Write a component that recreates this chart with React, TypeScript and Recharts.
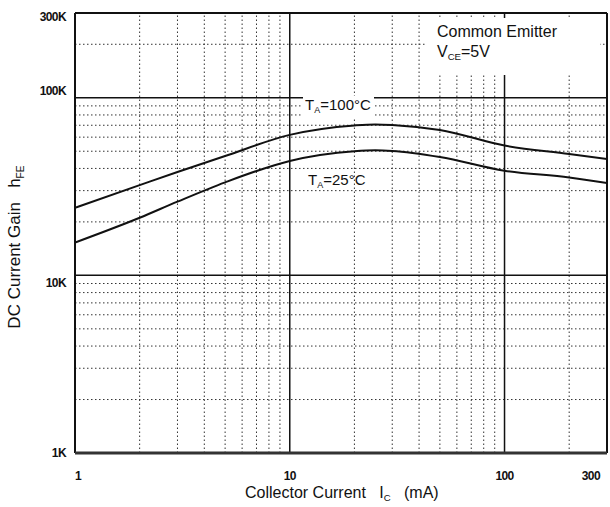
import { LineChart, Line, XAxis, YAxis, ReferenceLine } from "recharts";

// collector current (mA) and DC current gain hFE
const currentMa = [1, 2, 3, 5, 10, 20, 25, 30, 50, 100, 200, 300];
const gain100C = [24000, 32200, 38200, 47000, 61800, 69800, 70800, 70300, 65900, 53800, 48300, 45200];
const gain25C = [15300, 21100, 26000, 33400, 44100, 50000, 50600, 50200, 46400, 38800, 35600, 33100];

const xTicks = [1, 10, 100, 300];
const xTickLabels = ["1", "10", "100", "300"];
const yTicks = [1000, 10000, 100000, 300000];
const yTickLabels = ["1K", "10K", "100K", "300K"];

const xMajor = [10, 100];
const xMinor = [2, 3, 4, 5, 6, 7, 8, 9, 20, 30, 40, 50, 60, 70, 80, 90, 200];
const yMajor = [10000, 100000];
const yMinor = [
  2000, 3000, 4000, 5000, 6000, 7000, 8000, 9000,
  20000, 30000, 40000, 50000, 60000, 70000, 80000, 90000, 200000,
];

const data = currentMa.map((c, i) => ({ ic: c, t100: gain100C[i], t25: gain25C[i] }));

const FONT = '"Liberation Sans", Arial, sans-serif';
const INK = "#111";

function XTick({ x, y, payload }: any) {
  const i = xTicks.indexOf(payload.value);
  const anchor = payload.value === 1 ? "start" : payload.value === 300 ? "end" : "middle";
  const dx = payload.value === 300 ? 2 : 0;
  return (
    <text x={x + dx} y={y + 19} textAnchor={anchor} fontFamily={FONT} fontSize={12}
      fontWeight="bold" fill={INK} letterSpacing={-0.6}>
      {xTickLabels[i]}
    </text>
  );
}

const yShift: Record<number, number> = { 1000: 4, 10000: 12, 100000: -3, 300000: 8 };

function YTick({ x, y, payload }: any) {
  const i = yTicks.indexOf(payload.value);
  return (
    <text x={x - 1} y={y + yShift[payload.value]} textAnchor="end" fontFamily={FONT}
      fontSize={12} fontWeight="bold" fill={INK} letterSpacing={-0.6}>
      {yTickLabels[i]}
    </text>
  );
}

const sub = { fontSize: "0.6em", verticalAlign: "-0.35em" } as const;

export default function App() {
  return (
    <div style={{ position: "absolute", left: 0, top: 0, width: 610, height: 507, background: "#fff", fontFamily: FONT, color: INK }}>
      <LineChart width={610} height={507} data={data} margin={{ top: 13, right: 3, bottom: 24, left: 15 }}>
        <XAxis dataKey="ic" type="number" scale="log" domain={[1, 300]} ticks={xTicks}
          allowDataOverflow axisLine={false} tickLine={false} height={30} tick={<XTick />} />
        <YAxis type="number" scale="log" domain={[1000, 300000]} ticks={yTicks}
          allowDataOverflow axisLine={false} tickLine={false} width={60} tick={<YTick />} />

        {xMinor.map((v) => (
          <ReferenceLine key={"xm" + v} x={v} stroke="#333" strokeDasharray="1.5 2.5" />
        ))}
        {yMinor.map((v) => (
          <ReferenceLine key={"ym" + v} y={v} stroke="#333" strokeDasharray="1.5 2.5" />
        ))}
        {xMajor.map((v) => (
          <ReferenceLine key={"xM" + v} x={v} stroke={INK} strokeWidth={1.5} />
        ))}
        {yMajor.map((v) => (
          <ReferenceLine key={"yM" + v} y={v} stroke={INK} strokeWidth={1.5} />
        ))}
        <ReferenceLine x={1} stroke={INK} strokeWidth={2} />
        <ReferenceLine x={300} stroke={INK} strokeWidth={2} />
        <ReferenceLine y={1000} stroke="#333" strokeWidth={3} />
        <ReferenceLine y={300000} stroke={INK} strokeWidth={2} />

        <Line dataKey="t100" type="monotone" stroke={INK} strokeWidth={2} dot={false} isAnimationActive={false} />
        <Line dataKey="t25" type="monotone" stroke={INK} strokeWidth={2} dot={false} isAnimationActive={false} />
      </LineChart>

      {/* legend box, white so the grid stops behind it */}
      <div style={{ position: "absolute", left: 426, top: 18, width: 174, height: 57, background: "#fff" }}>
        <div style={{ position: "absolute", left: 11, top: 5, fontSize: 16, whiteSpace: "nowrap" }}>Common Emitter</div>
        <div style={{ position: "absolute", left: 11, top: 25, fontSize: 16, whiteSpace: "nowrap" }}>
          V<span style={sub}>CE</span>=5V
        </div>
      </div>

      <div style={{ position: "absolute", left: 303, top: 96, padding: "0 3px 0 2px", background: "#fff", fontSize: 15, lineHeight: "18px", whiteSpace: "nowrap" }}>
        T<span style={sub}>A</span>=100°C
      </div>
      <div style={{ position: "absolute", left: 308, top: 171, fontSize: 15, lineHeight: "18px", whiteSpace: "nowrap" }}>
        T<span style={sub}>A</span>=25°C
      </div>

      <div style={{ position: "absolute", left: 245, top: 484, fontSize: 16, lineHeight: "18px", whiteSpace: "nowrap" }}>
        Collector Current&nbsp;&nbsp;&nbsp;I<span style={sub}>C</span>&nbsp;&nbsp;&nbsp;(mA)
      </div>
      <div style={{ position: "absolute", left: 18, top: 247, width: 0, height: 0 }}>
        <div style={{ position: "absolute", left: 0, top: 0, transform: "translate(-50%, -50%) rotate(-90deg)", fontSize: 17, lineHeight: "18px", whiteSpace: "nowrap" }}>
          DC Current Gain&nbsp;&nbsp;&nbsp;h<span style={sub}>FE</span>
        </div>
      </div>
    </div>
  );
}
